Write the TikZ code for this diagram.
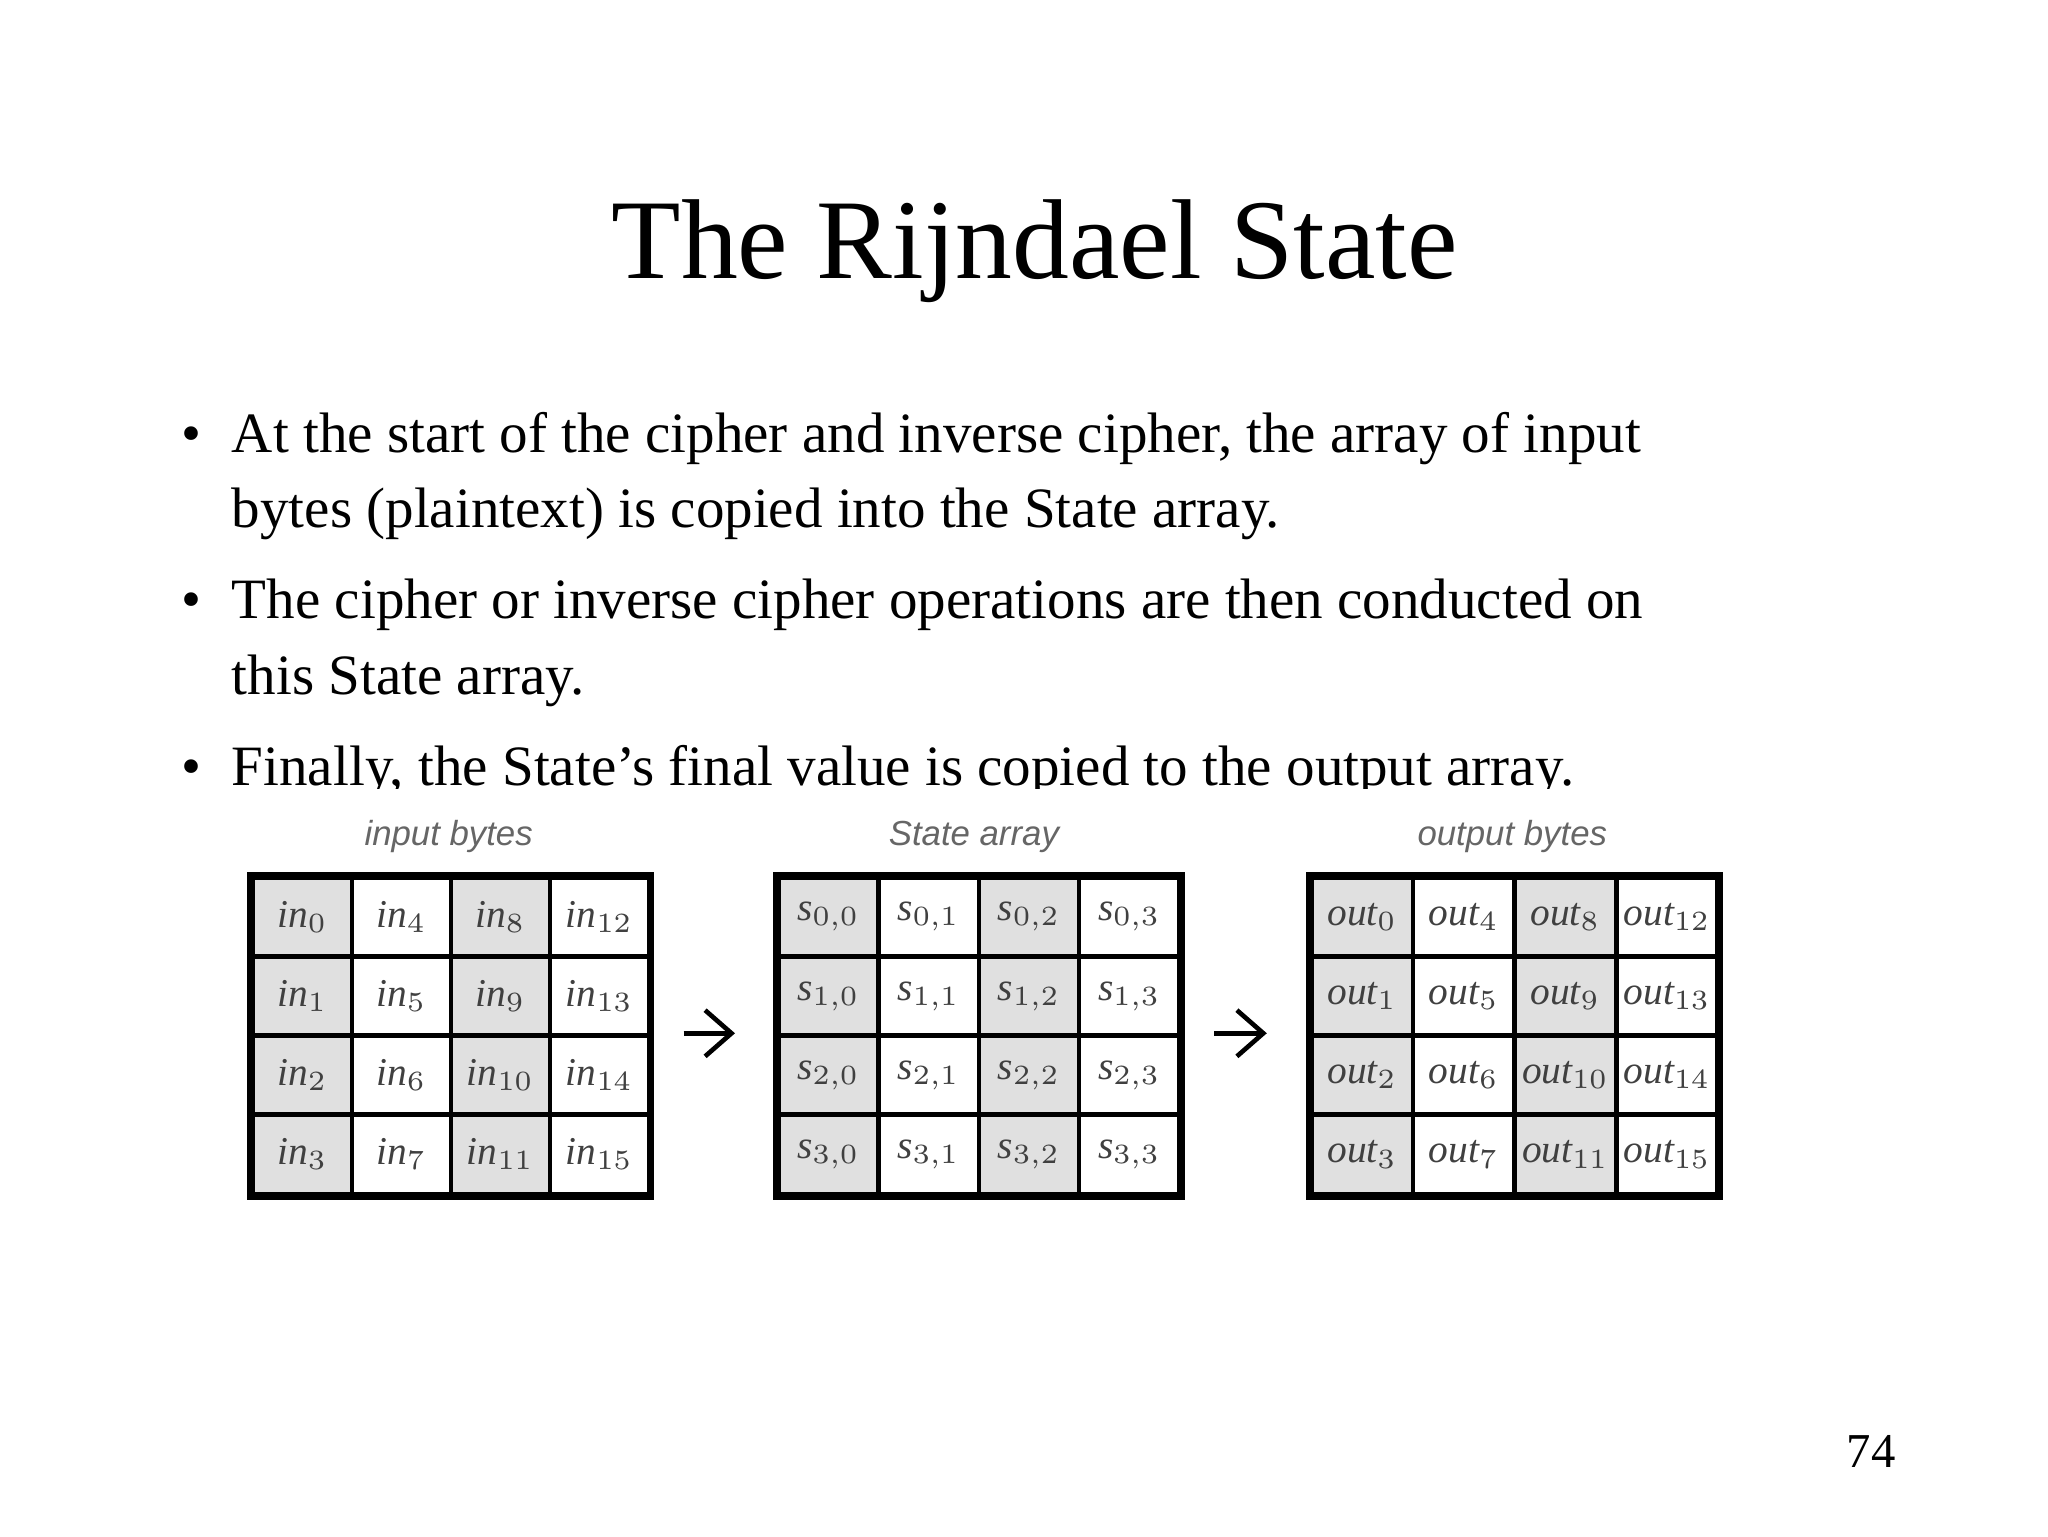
\documentclass[tikz,border=0pt]{standalone}
\usepackage{fontspec}
\usetikzlibrary{arrows.meta}
\setmainfont{Liberation Serif}
\newfontfamily\lblfont{Liberation Sans}
\begin{document}
\begin{tikzpicture}[x=0.1mm,y=-0.1mm,
  cell/.style={draw=black,line width=1pt,minimum width=7.5mm,minimum height=6mm,inner sep=0pt,anchor=north west,font=\fontsize{8.5}{10}\selectfont\itshape,text=black!75},
  shade/.style={cell,fill=black!12},
  lbl/.style={font=\lblfont\itshape\fontsize{7.5}{9}\selectfont,text=black!60},
  bl/.style={anchor=base west,inner sep=0pt,font=\fontsize{12.3}{14}\selectfont},
  arr/.style={-{Straight Barb[length=2mm,width=3.5mm]},line width=1pt}]
\useasboundingbox (0,0) rectangle (1552,1164);
\node (title) at (784,190) {\fontsize{24.5}{28}\selectfont The Rijndael State};
\node[bl] (b1) at (137,343) {\textbullet};
\node[bl] (l1) at (175,343) {At the start of the cipher and inverse cipher, the array of input};
\node[bl] (l2) at (175,400) {bytes (plaintext) is copied into the State array.};
\node[bl] (b2) at (137,469) {\textbullet};
\node[bl] (l3) at (175,469) {The cipher or inverse cipher operations are then conducted on};
\node[bl] (l4) at (175,526) {this State array.};
\node[bl] (b3) at (137,595) {\textbullet};
\node[bl] (l5) at (175,595) {Finally, the State's final value is copied to the output array.};
\fill[white] (100,598) rectangle (1450,618);
% tables
\foreach \r in {0,...,3}{\foreach \c in {0,...,3}{
  \pgfmathtruncatemacro{\k}{4*\c+\r}
  \ifodd\c \def\st{cell}\else\def\st{shade}\fi
  \node[\st,minimum width=7.5mm] (a\r\c) at ({190+75*\c},{663+60*\r}) {in$_{\k}$};
  \node[\st,minimum width=7.6mm] (b\r\c) at ({588+76*\c},{663+60*\r}) {s$_{\r,\c}$};
  \node[\st,minimum width=7.7mm] (c\r\c) at ({992+77*\c},{663+60*\r}) {out$_{\k}$};
}}
\draw[line width=1.4pt] (a00.north west) rectangle (a33.south east);
\draw[line width=1.4pt] (b00.north west) rectangle (b33.south east);
\draw[line width=1.4pt] (c00.north west) rectangle (c33.south east);
\node[lbl] (la) at (340,634) {input bytes};
\node[lbl] (lb) at (738,634) {State array};
\node[lbl] (lc) at (1146,634) {output bytes};
\coordinate (a1) at (518,783); \coordinate (a2) at (557,783);
\coordinate (c1) at (920,783); \coordinate (c2) at (960,783);
\draw[arr] (a1) -- (a2);
\draw[arr] (c1) -- (c2);
\node (pg) at (1418,1100) {\fontsize{10.5}{12}\selectfont 74};
\end{tikzpicture}
\end{document}
